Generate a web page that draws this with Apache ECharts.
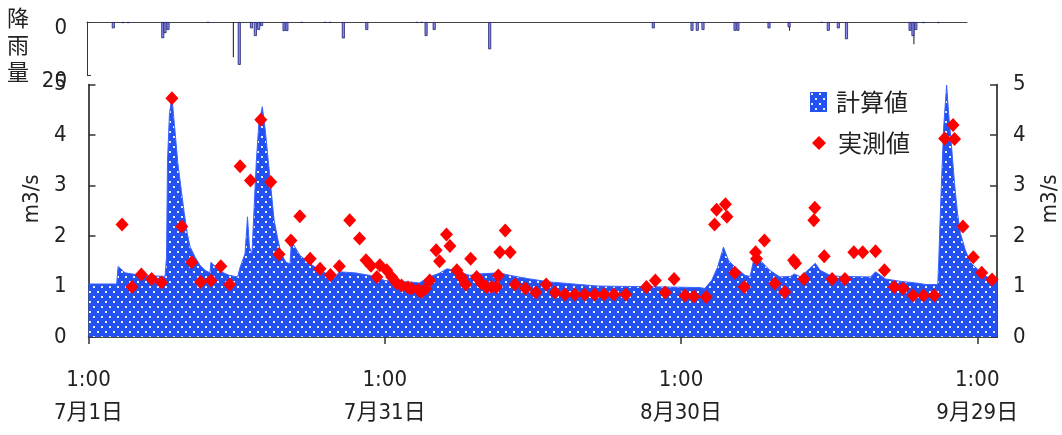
<!DOCTYPE html>
<html>
<head>
<meta charset="utf-8">
<script src="https://cdn.jsdelivr.net/npm/echarts@6/dist/echarts.min.js"></script>
<style>
html,body{margin:0;padding:0;background:#fff;}
#c{width:1062px;height:435px;}
</style>
</head>
<body>
<div id="c"></div>
<script>
// x values are days elapsed since 7/1 1:00
const tickLabels = ['1:00\n7月1日', '1:00\n7月31日', '1:00\n8月30日', '1:00\n9月29日'];
const tickDays = [0, 30, 60, 90];

// rainfall (mm)
const rainDays = [2.75, 3.76, 4.3, 7.92, 8.16, 8.47, 12.65, 15.92, 17.2, 17.6, 17.95, 18.25, 20.6, 20.9, 22.45, 24.9, 25.4, 26.8, 29.25, 34.5, 35.0, 35.45, 36.3, 42.1, 59.2, 63.25, 63.8, 64.4, 67.75, 68.05, 71.3, 73.4, 76.8, 77.5, 78.55, 79.4, 86.05, 86.35, 86.65, 87.45, 89.0];
const rainVals = [2.4, 0.4, 0.4, 6.1, 4.2, 3.0, 0.3, 16.2, 2.4, 5.3, 3.0, 1.5, 3.4, 3.4, 0.3, 0.3, 0.3, 6.2, 3.0, 0.3, 0.3, 5.3, 3.0, 10.3, 2.4, 3.3, 3.3, 3.0, 3.3, 3.3, 2.4, 2.0, 0.3, 3.3, 2.4, 6.5, 3.3, 5.3, 3.0, 0.4, 0.4];
// rainfall drawn as thin lines
const rainThinDays = [15.3, 73.45, 86.45];
const rainThinVals = [13.3, 3.3, 8.4];

// 計算値 (m3/s)
const calcDays = [0, 2.85, 3.0, 3.7, 5.4, 7.75, 7.9, 8.0, 8.2, 8.45, 8.75, 9.05, 9.4, 9.7, 10.0, 10.3, 10.8, 11.3, 11.8, 12.3, 12.4, 13.3, 14.3, 15.1, 15.35, 15.85, 16.1, 16.3, 16.55, 17.0, 17.25, 17.6, 17.9, 18.2, 18.5, 18.8, 19.2, 19.5, 20.0, 20.4, 20.55, 21.4, 22.4, 23.4, 24.5, 25.0, 25.4, 27.0, 28.5, 30.0, 31.0, 32.5, 33.5, 34.5, 35.5, 36.3, 37.1, 38.6, 39.6, 41.6, 42.7, 44.7, 46.7, 48.5, 51.5, 61.9, 62.4, 63.1, 63.7, 64.3, 64.8, 65.5, 66.5, 67.0, 67.5, 68.0, 69.0, 70.0, 71.1, 71.5, 72.1, 73.6, 74.1, 75.1, 76.1, 79.2, 79.7, 80.7, 82.3, 83.8, 84.8, 86.0, 86.1, 86.3, 86.6, 86.9, 87.1, 87.4, 87.7, 88.0, 88.3, 88.8, 89.3, 90.3, 91.3, 92];
const calcVals = [1.05, 1.05, 1.40, 1.27, 1.22, 1.20, 1.58, 3.5, 4.43, 4.75, 4.1, 3.44, 2.9, 2.45, 2.05, 1.78, 1.58, 1.42, 1.32, 1.27, 1.48, 1.30, 1.22, 1.19, 1.38, 1.65, 2.38, 1.78, 1.65, 3.5, 4.23, 4.56, 4.1, 3.5, 2.9, 2.31, 1.91, 1.65, 1.48, 1.45, 1.9, 1.62, 1.46, 1.32, 1.22, 1.19, 1.29, 1.27, 1.22, 1.12, 1.10, 1.09, 1.07, 1.19, 1.26, 1.35, 1.32, 1.22, 1.25, 1.27, 1.22, 1.15, 1.09, 1.06, 1.01, 0.98, 0.96, 1.12, 1.38, 1.78, 1.52, 1.38, 1.22, 1.20, 1.65, 1.52, 1.32, 1.19, 1.20, 1.25, 1.19, 1.46, 1.32, 1.22, 1.20, 1.19, 1.29, 1.15, 1.10, 1.07, 1.04, 1.04, 1.52, 2.67, 4.16, 4.99, 4.43, 3.77, 3.04, 2.45, 2.05, 1.72, 1.48, 1.29, 1.15, 1.12];

// 実測値 (m3/s)
const obsDays = [3.4, 4.4, 5.35, 6.4, 7.4, 8.45, 9.45, 10.45, 11.35, 12.4, 13.4, 14.3, 15.35, 16.4, 17.45, 18.45, 19.3, 20.5, 21.4, 22.45, 23.45, 24.5, 25.4, 26.45, 27.45, 28.1, 28.6, 29.2, 29.5, 30.2, 30.7, 31.2, 31.7, 32.35, 32.7, 33.4, 33.7, 34.15, 34.55, 35.2, 35.55, 36.25, 36.6, 37.3, 37.75, 38.2, 38.7, 39.3, 39.8, 40.3, 40.8, 41.3, 41.5, 41.65, 42.2, 42.7, 43.2, 44.25, 45.3, 46.35, 47.25, 48.25, 49.25, 50.25, 51.25, 52.2, 53.2, 54.4, 56.5, 57.4, 58.4, 59.3, 60.4, 61.3, 62.55, 63.4, 63.6, 64.5, 64.65, 65.45, 66.4, 67.55, 67.65, 68.45, 69.5, 70.5, 71.4, 71.6, 72.45, 73.45, 73.55, 74.5, 75.3, 76.6, 77.5, 78.4, 79.7, 80.6, 81.6, 82.5, 83.5, 84.55, 85.65, 86.7, 87.55, 87.7, 88.55, 89.6, 90.45, 91.5];
const obsVals = [2.23, 0.99, 1.24, 1.15, 1.08, 4.73, 2.19, 1.48, 1.09, 1.12, 1.40, 1.04, 3.38, 3.10, 4.30, 3.07, 1.64, 1.91, 2.39, 1.55, 1.35, 1.23, 1.40, 2.31, 1.95, 1.52, 1.41, 1.19, 1.42, 1.32, 1.19, 1.07, 1.02, 0.98, 0.96, 0.93, 0.89, 0.96, 1.12, 1.72, 1.50, 2.03, 1.80, 1.32, 1.19, 1.04, 1.55, 1.19, 1.06, 0.99, 0.99, 0.99, 1.22, 1.68, 2.11, 1.68, 1.04, 0.96, 0.88, 1.04, 0.88, 0.84, 0.84, 0.84, 0.84, 0.84, 0.84, 0.84, 0.99, 1.12, 0.88, 1.15, 0.82, 0.80, 0.79, 2.23, 2.52, 2.63, 2.38, 1.27, 0.99, 1.68, 1.55, 1.91, 1.06, 0.89, 1.52, 1.46, 1.15, 2.31, 2.56, 1.60, 1.15, 1.15, 1.68, 1.68, 1.70, 1.32, 0.99, 0.96, 0.82, 0.82, 0.82, 3.93, 4.20, 3.92, 2.19, 1.58, 1.27, 1.14];

// dotted fill pattern
function makePattern() {
  const c = document.createElement('canvas');
  c.width = 8; c.height = 10;
  const g = c.getContext('2d');
  g.fillStyle = '#2452f2';
  g.fillRect(0, 0, 8, 10);
  g.fillStyle = 'rgba(255,255,255,0.9)';
  g.fillRect(1, 1, 2, 2);
  g.fillRect(5, 6, 2, 2);
  return { image: c, repeat: 'repeat' };
}
const pattern = makePattern();

const narrow = "'Liberation Sans Narrow', 'DejaVu Sans Condensed', 'Noto Sans CJK JP', sans-serif";
const cjk = "'Noto Sans CJK JP', sans-serif";

const chart = echarts.init(document.getElementById('c'), null, { renderer: 'canvas' });
chart.setOption({
  animation: false,
  backgroundColor: '#ffffff',
  graphic: [{
    type: 'text', left: 7, top: 4,
    style: { text: '降\n雨\n量', font: "22px 'Noto Sans CJK JP'", lineHeight: 27, fill: '#222' }
  }],
  legend: [{
    orient: 'vertical', left: 805, top: 85,
    itemWidth: 17, itemHeight: 20,
    textStyle: { fontSize: 24, color: '#222', fontFamily: cjk, padding: [0, 0, 0, 4] },
    data: [{ name: '計算値', icon: 'rect' }]
  }, {
    orient: 'vertical', left: 807, top: 126,
    itemWidth: 14, itemHeight: 14,
    textStyle: { fontSize: 24, color: '#222', fontFamily: cjk, padding: [0, 0, 0, 7] },
    data: [{ name: '実測値', icon: 'diamond' }]
  }],
  grid: [
    { left: 87, right: 95, top: 22, height: 53, containLabel: false, outerBoundsMode: 'none' },
    { left: 88.5, right: 65, top: 84.5, bottom: 98, containLabel: false, outerBoundsMode: 'none' }
  ],
  xAxis: [{
    gridIndex: 0, type: 'value', min: 0, max: 92, position: 'top',
    axisLine: { show: true, lineStyle: { color: '#444', width: 1 } },
    axisTick: { show: false }, axisLabel: { show: false }, splitLine: { show: false }
  }, {
    gridIndex: 1, type: 'value', min: 0, max: 92, interval: 30,
    axisLine: { show: true, onZero: false, lineStyle: { color: '#111', width: 1.5 } },
    axisTick: { show: true, length: 7, customValues: tickDays, lineStyle: { color: '#333', width: 1.5 } },
    axisLabel: {
      customValues: tickDays,
      formatter: v => tickLabels[tickDays.indexOf(v)] || '',
      fontSize: 22, lineHeight: 33, margin: 27, color: '#222', fontFamily: narrow
    },
    splitLine: { show: false }
  }],
  yAxis: [{
    gridIndex: 0, type: 'value', min: 0, max: 20, interval: 20, inverse: true,
    axisLine: { show: true, lineStyle: { color: '#333', width: 1 } },
    axisTick: { show: true, inside: true, length: 4, lineStyle: { color: '#333' } },
    axisLabel: { fontSize: 22, color: '#222', margin: 20, fontFamily: narrow, verticalAlign: 'top', lineHeight: 12 },
    splitLine: { show: false }
  }, {
    gridIndex: 1, type: 'value', min: 0, max: 5, interval: 1, position: 'left',
    name: 'm3/s', nameLocation: 'middle', nameGap: 37, nameRotate: 90,
    nameTextStyle: { fontSize: 22, color: '#222', fontFamily: narrow, padding: [0, 0, 0, 24] },
    axisLine: { show: true, lineStyle: { color: '#111', width: 1.5 } },
    axisTick: { show: true, inside: true, length: 7, lineStyle: { color: '#333', width: 1.5 } },
    axisLabel: { fontSize: 22, color: '#222', margin: 22, fontFamily: narrow },
    splitLine: { show: false }
  }, {
    gridIndex: 1, type: 'value', min: 0, max: 5, interval: 1, position: 'right',
    name: 'm3/s', nameLocation: 'middle', nameGap: 42, nameRotate: 90,
    nameTextStyle: { fontSize: 22, color: '#222', fontFamily: narrow, padding: [0, 0, 0, 24] },
    axisLine: { show: true, lineStyle: { color: '#111', width: 1.5 } },
    axisTick: { show: true, inside: true, length: 7, lineStyle: { color: '#333', width: 1.5 } },
    axisLabel: { fontSize: 22, color: '#222', margin: 16, fontFamily: narrow },
    splitLine: { show: false }
  }],
  series: [{
    name: '降雨量', type: 'bar', xAxisIndex: 0, yAxisIndex: 0,
    barWidth: 3,
    itemStyle: { color: '#8a8cf0', borderColor: '#1e2070', borderWidth: 0.8 },
    data: rainDays.map((d, i) => [d, rainVals[i]])
  }, {
    name: '降雨量細', type: 'custom', xAxisIndex: 0, yAxisIndex: 0,
    renderItem: (params, api) => {
      const p0 = api.coord([api.value(0), 0]);
      const p1 = api.coord([api.value(0), api.value(1)]);
      return { type: 'line', shape: { x1: p0[0], y1: p0[1], x2: p1[0], y2: p1[1] }, style: { stroke: '#111', lineWidth: 1 } };
    },
    data: rainThinDays.map((d, i) => [d, rainThinVals[i]])
  }, {
    name: '計算値', type: 'line', xAxisIndex: 1, yAxisIndex: 1,
    symbol: 'none', z: 2,
    lineStyle: { color: '#3a64ff', width: 1 },
    itemStyle: { color: pattern },
    areaStyle: { color: pattern, opacity: 1 },
    data: calcDays.map((d, i) => [d, calcVals[i]])
  }, {
    name: '実測値', type: 'scatter', xAxisIndex: 1, yAxisIndex: 1,
    symbol: 'diamond', symbolSize: [13, 14], z: 3,
    itemStyle: { color: '#ff0000', opacity: 1 },
    data: obsDays.map((d, i) => [d, obsVals[i]])
  }]
});
</script>
</body>
</html>
